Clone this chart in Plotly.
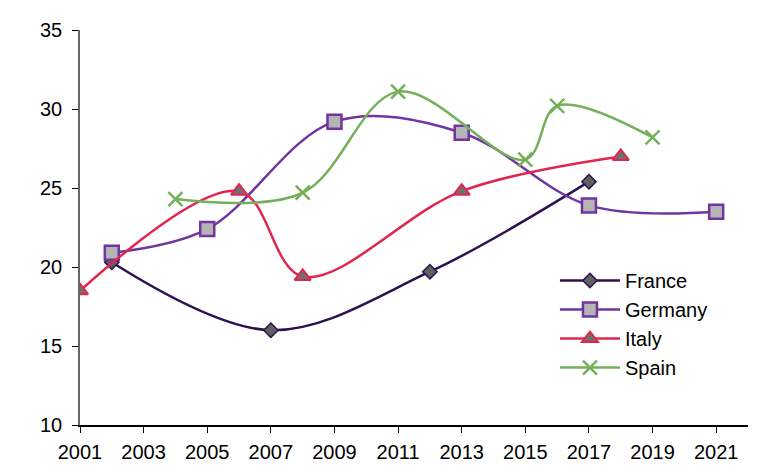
import plotly.graph_objects as go

france_x = [2002, 2007, 2012, 2017]
france_y = [20.3, 16.0, 19.7, 25.4]
germany_x = [2002, 2005, 2009, 2013, 2017, 2021]
germany_y = [20.9, 22.4, 29.2, 28.5, 23.9, 23.5]
italy_x = [2001, 2006, 2008, 2013, 2018]
italy_y = [18.5, 24.8, 19.4, 24.8, 27.0]
spain_x = [2004, 2008, 2011, 2015, 2016, 2019]
spain_y = [24.3, 24.7, 31.1, 26.8, 30.2, 28.2]
x_ticks = list(range(2001, 2022, 2))
y_ticks = [10, 15, 20, 25, 30, 35]

fig = go.Figure()
fig.add_trace(go.Scatter(x=france_x, y=france_y, name="France", mode="lines+markers",
    line=dict(color="#2E1250", width=2.5, shape="spline", smoothing=1),
    marker=dict(symbol="diamond", size=11, color="#5F5F62", line=dict(color="#2E1250", width=1.5))))
fig.add_trace(go.Scatter(x=germany_x, y=germany_y, name="Germany", mode="lines+markers",
    line=dict(color="#7035A0", width=2.5, shape="spline", smoothing=1),
    marker=dict(symbol="square", size=14, color="#B4B4B4", line=dict(color="#7035A0", width=2.5))))
fig.add_trace(go.Scatter(x=italy_x, y=italy_y, name="Italy", mode="lines+markers",
    line=dict(color="#E0264F", width=2.5, shape="spline", smoothing=1),
    marker=dict(symbol="triangle-up", size=14, color="#707070", line=dict(color="#E0264F", width=2))))
fig.add_trace(go.Scatter(x=spain_x, y=spain_y, name="Spain", mode="lines+markers",
    line=dict(color="#74B05A", width=2.5, shape="spline", smoothing=1),
    marker=dict(symbol="x-thin", size=14, color="#74B05A", line=dict(color="#74B05A", width=2.5))))

tick_font = dict(family="Liberation Sans, Arial", size=20, color="#000000")

fig.update_layout(
    width=768, height=471,
    margin=dict(l=72, r=28, t=22, b=54),
    plot_bgcolor="white", paper_bgcolor="white",
    font=dict(family="Liberation Sans, Arial", size=20, color="#000000"),
    showlegend=True,
    legend=dict(x=0.711, y=0.415, xanchor="left", yanchor="top", bgcolor="rgba(0,0,0,0)",
                font=dict(size=20), tracegroupgap=0, itemwidth=60),
)
fig.update_xaxes(range=[2001, 2022], tickvals=x_ticks, showgrid=False, zeroline=False,
                 showline=True, linecolor="#000000", linewidth=1.5, ticks="outside",
                 ticklen=6, tickcolor="#000000", automargin=False, tickfont=tick_font,
                 ticklabelstandoff=2)
fig.update_yaxes(range=[10, 35], tickvals=y_ticks, showgrid=False, zeroline=False,
                 showline=True, linecolor="#666666", linewidth=1.5, ticks="outside",
                 ticklen=6, tickcolor="#000000", automargin=False, tickfont=tick_font,
                 ticklabelstandoff=6)

fig.write_html("out.html")
